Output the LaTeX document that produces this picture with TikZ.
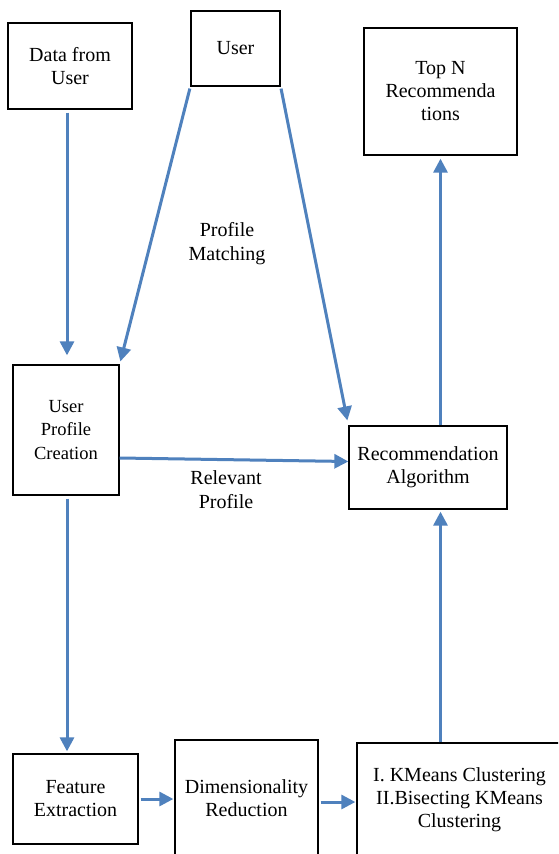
\documentclass[tikz,border=0pt]{standalone}
\usepackage{fontspec}
\setmainfont{Liberation Serif}
\usetikzlibrary{arrows.meta}
\definecolor{arrowblue}{HTML}{4F81BD}
\tikzset{
 box/.style={draw=black, line width=1.3pt, rectangle, align=center, font=\fontsize{20}{23}\selectfont, inner sep=0pt},
 flow/.style={draw=arrowblue, line width=3pt, -{Triangle[length=14pt,width=14pt]}},
 lbl/.style={align=center, font=\fontsize{20}{24}\selectfont, inner sep=0pt}
}
\begin{document}
\begin{tikzpicture}[x=1pt,y=-1pt]
\useasboundingbox (0,0) rectangle (558,854);
\clip (0,0) rectangle (558,854);
\fill[white] (0,0) rectangle (558,854);
\node[box, minimum width=124pt, minimum height=86pt] (data) at (70,66) {Data from\\User};
\node[box, minimum width=89pt, minimum height=75pt] (user) at (235.5,48.5) {User};
\node[box, minimum width=153pt, minimum height=127pt] (topn) at (440.5,91.5) {Top N\\Recommenda\\tions};
\node[box, minimum width=106pt, minimum height=130pt, font=\fontsize{18.5}{23.5}\selectfont] (upc) at (66,430) {User\\Profile\\Creation};
\node[box, minimum width=158pt, minimum height=83pt] (rec) at (428,467.5) {Recommendation\\Algorithm};
\node[box, minimum width=125pt, minimum height=90pt] (fe) at (75.5,799) {Feature\\Extraction};
\node[box, minimum width=143pt, minimum height=116pt] (dr) at (246.5,798) {Dimensionality\\Reduction};
\node[box, minimum width=205pt, minimum height=113pt] (km) at (459.5,799.5) {I. KMeans Clustering\\II.Bisecting KMeans\\Clustering};
\node[lbl] (pm) at (227,244) {Profile\\Matching};
\node[lbl] (rp) at (226,490) {Relevant\\Profile};
\draw[flow, shorten <=3pt, shorten >=9pt] ([xshift=-3pt]data.south) -- ([xshift=-3pt]data.south |- upc.north);
\draw[flow, shorten <=2pt, shorten >=3pt] (user.south west) -- (upc.north east);
\draw[flow, shorten <=2pt, shorten >=5pt] (user.south east) -- (rec.north west);
\draw[flow] ([yshift=-28pt]upc.east) -- ([yshift=6pt]rec.west);
\draw[flow, shorten <=3pt, shorten >=2pt] ([xshift=1pt]upc.south) -- ([xshift=1pt]upc.south |- fe.north);
\draw[flow, shorten >=3pt] (topn.south |- rec.north) -- (topn.south);
\draw[flow, shorten >=2pt] (topn.south |- km.north) -- (topn.south |- rec.south);
\draw[flow, shorten <=2pt, shorten >=1pt] (fe.east) -- (fe.east -| dr.west);
\draw[flow, shorten <=2pt, shorten >=1pt] ([yshift=-3pt]fe.east -| dr.east) -- ([yshift=-3pt]fe.east -| km.west);
\end{tikzpicture}
\end{document}
